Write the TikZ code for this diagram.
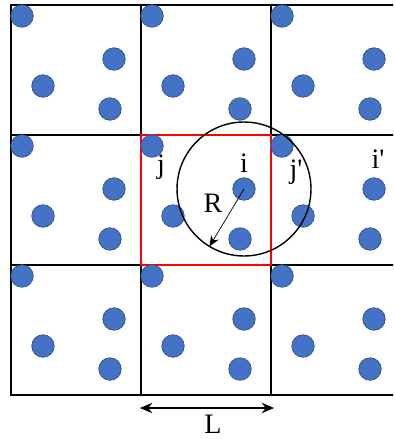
\documentclass[tikz,border=0pt]{standalone}
\usepackage{fontspec}
\setmainfont{Liberation Serif}
\usetikzlibrary{arrows.meta}

\definecolor{ptblue}{RGB}{68,114,196}
\definecolor{ptedge}{RGB}{47,82,143}

\tikzset{
  cell/.style={draw=black, line width=0.8pt},
  particle/.style={circle, fill=ptblue, draw=ptedge, line width=0.4pt, minimum size=0.45cm, inner sep=0pt},
  lbl/.style={font=\fontsize{16}{19}\selectfont, inner sep=0pt, anchor=base},
}

\begin{document}
\begin{tikzpicture}[x=0.02cm, y=-0.02cm]
  \useasboundingbox (0,0) rectangle (393,439);
  \clip (0,0) rectangle (393,439);
  % cells
  \draw[cell] (11,5) rectangle (141,135);
  \draw[cell] (141,5) rectangle (271,135);
  \draw[cell] (271,5) rectangle (401,135);
  \draw[cell] (11,135) rectangle (141,265);
  \draw[cell] (271,135) rectangle (401,265);
  \draw[cell] (11,265) rectangle (141,395);
  \draw[cell] (141,265) rectangle (271,395);
  \draw[cell] (271,265) rectangle (401,395);
  \draw[cell, draw=red] (141,135) rectangle (271,265);
  % top row
  \node[particle] (p11a) at (22,16) {};
  \node[particle] (p11b) at (114,59) {};
  \node[particle] (p11c) at (43,86) {};
  \node[particle] (p11d) at (110,109) {};
  \node[particle] (p12a) at (152,16) {};
  \node[particle] (p12b) at (244,59) {};
  \node[particle] (p12c) at (173,86) {};
  \node[particle] (p12d) at (240,109) {};
  \node[particle] (p13a) at (282,16) {};
  \node[particle] (p13b) at (374,59) {};
  \node[particle] (p13c) at (303,86) {};
  \node[particle] (p13d) at (370,109) {};
  % middle row
  \node[particle] (p21a) at (22,146) {};
  \node[particle] (p21b) at (114,189) {};
  \node[particle] (p21c) at (43,216) {};
  \node[particle] (p21d) at (110,239) {};
  \node[particle] (pj) at (152,146) {};
  \node[particle] (pi) at (244,189) {};
  \node[particle] (p22c) at (173,216) {};
  \node[particle] (p22d) at (240,239) {};
  \node[particle] (pjimg) at (282,146) {};
  \node[particle] (piimg) at (374,189) {};
  \node[particle] (p23c) at (303,216) {};
  \node[particle] (p23d) at (370,239) {};
  % bottom row
  \node[particle] (p31a) at (22,276) {};
  \node[particle] (p31b) at (114,319) {};
  \node[particle] (p31c) at (43,346) {};
  \node[particle] (p31d) at (110,369) {};
  \node[particle] (p32a) at (152,276) {};
  \node[particle] (p32b) at (244,319) {};
  \node[particle] (p32c) at (173,346) {};
  \node[particle] (p32d) at (240,369) {};
  \node[particle] (p33a) at (282,276) {};
  \node[particle] (p33b) at (374,319) {};
  \node[particle] (p33c) at (303,346) {};
  \node[particle] (p33d) at (370,369) {};
  % cutoff sphere
  \node[circle, draw=black, line width=0.8pt, minimum size=2.68cm, inner sep=0pt, outer sep=0pt] (cutoff) at (pi.center) {};
  \draw[line width=0.4pt, -{Stealth[length=6pt, width=5pt]}] (pi.center) -- (cutoff.239);
  % labels
  \node[lbl] (lj) at (161,173) {j};
  \node[lbl] (li) at (244,172) {i};
  \node[lbl] (lR) at (213,212) {R};
  \node[lbl] (ljimg) at (296,178) {j\textquotesingle};
  \node[lbl] (liimg) at (378,168) {i\textquotesingle};
  % box length
  \coordinate (bl) at (140,408);
  \coordinate (br) at (274,408);
  \draw[line width=0.6pt, {Stealth[length=7pt, width=6pt]}-{Stealth[length=7pt, width=6pt]}] (bl) -- (br);
  \node[lbl] (lL) at (213,433) {L};
\end{tikzpicture}
\end{document}
